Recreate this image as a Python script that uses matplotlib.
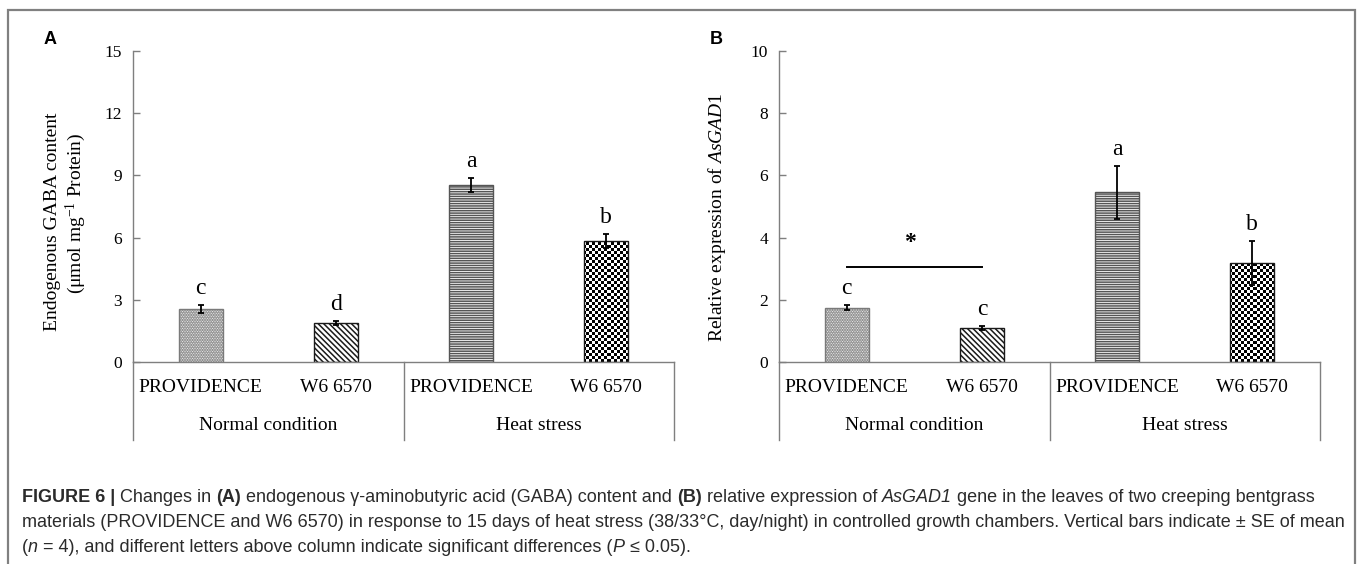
import numpy as np
import matplotlib
matplotlib.use('Agg')
import matplotlib.pyplot as plt
from matplotlib.patches import Rectangle
import matplotlib.transforms as mtransforms

# data
cultivars = ['PROVIDENCE', 'W6 6570', 'PROVIDENCE', 'W6 6570']
groups = ['Normal condition', 'Heat stress']
gaba_mean = [2.55, 1.88, 8.55, 5.83]
gaba_se = [0.20, 0.10, 0.33, 0.35]
gaba_letters = ['c', 'd', 'a', 'b']
gad_mean = [1.74, 1.09, 5.46, 3.19]
gad_se = [0.08, 0.06, 0.85, 0.70]
gad_letters = ['c', 'c', 'a', 'b']
gad_star_y = 3.06

W, H = 1360, 564
SERIF = 'Liberation Serif'
SANS = 'Liberation Sans'
AXCOL = '#7f7f7f'

plt.rcParams['mathtext.fontset'] = 'custom'
plt.rcParams['mathtext.rm'] = SERIF
plt.rcParams['mathtext.it'] = SERIF + ':italic'
plt.rcParams['mathtext.default'] = 'regular'
plt.rcParams['hatch.linewidth'] = 1.1

fig = plt.figure(figsize=(W / 100, H / 100), dpi=100)


def fx(px):
    return px / W


def fy(py):
    return 1 - py / H


def add_checker(ax, patch, ymax):
    bb = ax.get_window_extent()
    nx = int(round(bb.width / 3))
    ny = int(round(bb.height / 3))
    board = np.add.outer(np.arange(ny), np.arange(nx)) % 2
    im = ax.imshow(board, cmap='gray', extent=(-0.5, 3.5, 0, ymax),
                   interpolation='nearest', aspect='auto', origin='lower',
                   zorder=1.5)
    im.set_clip_path(patch)


def draw_panel(left_px, means, ses, letters, ymax, step):
    ax = fig.add_axes([fx(left_px), fy(362), fx(541), (362 - 51) / H])
    x = np.arange(len(means))
    styles = [
        dict(hatch='..........', edgecolor='#7a7a7a', facecolor='white'),
        dict(hatch='\\' * 6, edgecolor='#1a1a1a', facecolor='white'),
        dict(hatch='-------', edgecolor='#555555', facecolor='white'),
        dict(hatch=None, edgecolor='#1a1a1a', facecolor='none'),
    ]
    for i in range(len(means)):
        bars = ax.bar(x[i], means[i], 0.325, linewidth=1.0, zorder=2, **styles[i])
        if i == 3:
            add_checker(ax, bars[0], ymax)
    ax.errorbar(x, means, yerr=ses, fmt='none', ecolor='black',
                elinewidth=1.3, capsize=2.3, capthick=1.3, zorder=3)
    for i in range(len(means)):
        ax.annotate(letters[i], (x[i], means[i] + ses[i]), xytext=(0, 8),
                    textcoords='offset points', ha='center', va='baseline',
                    fontsize=17, family=SERIF)

    ax.set_xlim(-0.5, 3.5)
    ax.set_ylim(0, ymax)
    ax.set_yticks(np.arange(0, ymax + 0.01, step))
    ax.set_yticklabels([f'{v:g}' for v in np.arange(0, ymax + 0.01, step)],
                       family=SERIF)
    ax.tick_params(axis='y', direction='in', length=5, pad=8.0, labelsize=12.5,
                   color=AXCOL, width=1.0)
    ax.set_xticks([])
    for s in ['top', 'right']:
        ax.spines[s].set_visible(False)
    for s in ['left', 'bottom']:
        ax.spines[s].set_color(AXCOL)
        ax.spines[s].set_linewidth(1.0)

    # two-level category axis
    tr = mtransforms.blended_transform_factory(ax.transData, ax.transAxes)
    for xv in [-0.5, 1.5, 3.5]:
        ax.plot([xv, xv], [0, -0.25], transform=tr, color=AXCOL, lw=1.0,
                clip_on=False)
    for i, name in enumerate(cultivars):
        ax.text(x[i], -0.083, name, transform=tr, ha='center', va='center',
                fontsize=14, family=SERIF)
    for j, g in enumerate(groups):
        ax.text(0.5 + 2 * j, -0.203, g, transform=tr, ha='center',
                va='center', fontsize=14, family=SERIF)
    return ax


axA = draw_panel(133, gaba_mean, gaba_se, gaba_letters, 15, 3)
axB = draw_panel(779, gad_mean, gad_se, gad_letters, 10, 2)

# significance bar between the two normal-condition bars in B
axB.plot([0, 1], [gad_star_y, gad_star_y], color='black', lw=1.4)
axB.text(0.47, gad_star_y + 0.77, '*', ha='center', va='center', fontsize=17,
         fontweight='bold', family=SERIF)

# y labels
fig.text(fx(53), fy(222), 'Endogenous GABA content', rotation=90,
         ha='center', va='center', fontsize=14, family=SERIF)
fig.text(fx(76), fy(213), r'(μmol mg$^{\mathregular{-1}}$ Protein)',
         rotation=90, ha='center', va='center', fontsize=14, family=SERIF)
fig.text(fx(717), fy(217), r'Relative expression of $\mathit{AsGAD1}$',
         rotation=90, ha='center', va='center', fontsize=14, family=SERIF)

# panel letters
fig.text(fx(50), fy(39), 'A', fontsize=13, fontweight='bold', family=SANS,
         ha='center', va='center')
fig.text(fx(716), fy(39), 'B', fontsize=13, fontweight='bold', family=SANS,
         ha='center', va='center')

# outer frame
fig.add_artist(Rectangle((fx(8), fy(575)), fx(1355 - 8), (575 - 10) / H,
                         transform=fig.transFigure, fill=False,
                         edgecolor='#808080', linewidth=1.6))

# caption with mixed styles
renderer = fig.canvas.get_renderer()
CAPCOL = '#2b2b2b'


def run_width(s, size, **kw):
    t1 = fig.text(0, 0, '|' + s + '|', fontsize=size, family=SANS, **kw)
    t2 = fig.text(0, 0, '||', fontsize=size, family=SANS, **kw)
    w = t1.get_window_extent(renderer).width - t2.get_window_extent(renderer).width
    t1.remove()
    t2.remove()
    return w


line2 = ('materials (PROVIDENCE and W6 6570) in response to 15 days of heat '
         'stress (38/33°C, day/night) in controlled growth chambers. Vertical '
         'bars indicate ± SE of mean')
cap_size = 12 * 1325 / run_width(line2, 12)

B_ = dict(fontweight='bold')
I_ = dict(fontstyle='italic')
N_ = dict()
caption = [
    [('FIGURE 6 | ', B_), ('Changes in ', N_), ('(A)', B_),
     (' endogenous γ-aminobutyric acid (GABA) content and ', N_), ('(B)', B_),
     (' relative expression of ', N_), ('AsGAD1', I_),
     (' gene in the leaves of two creeping bentgrass', N_)],
    [(line2, N_)],
    [('(', N_), ('n', I_), (' = 4), and different letters above column '
                            'indicate significant differences (', N_),
     ('P', I_), (' ≤ 0.05).', N_)],
]
for k, line in enumerate(caption):
    xp = 22
    yp = 502 + 25 * k
    for txt, kw in line:
        fig.text(fx(xp), fy(yp), txt, fontsize=cap_size, family=SANS,
                 color=CAPCOL, ha='left', va='baseline', **kw)
        xp += run_width(txt, cap_size, **kw)

fig.savefig('out.png', dpi=100)
